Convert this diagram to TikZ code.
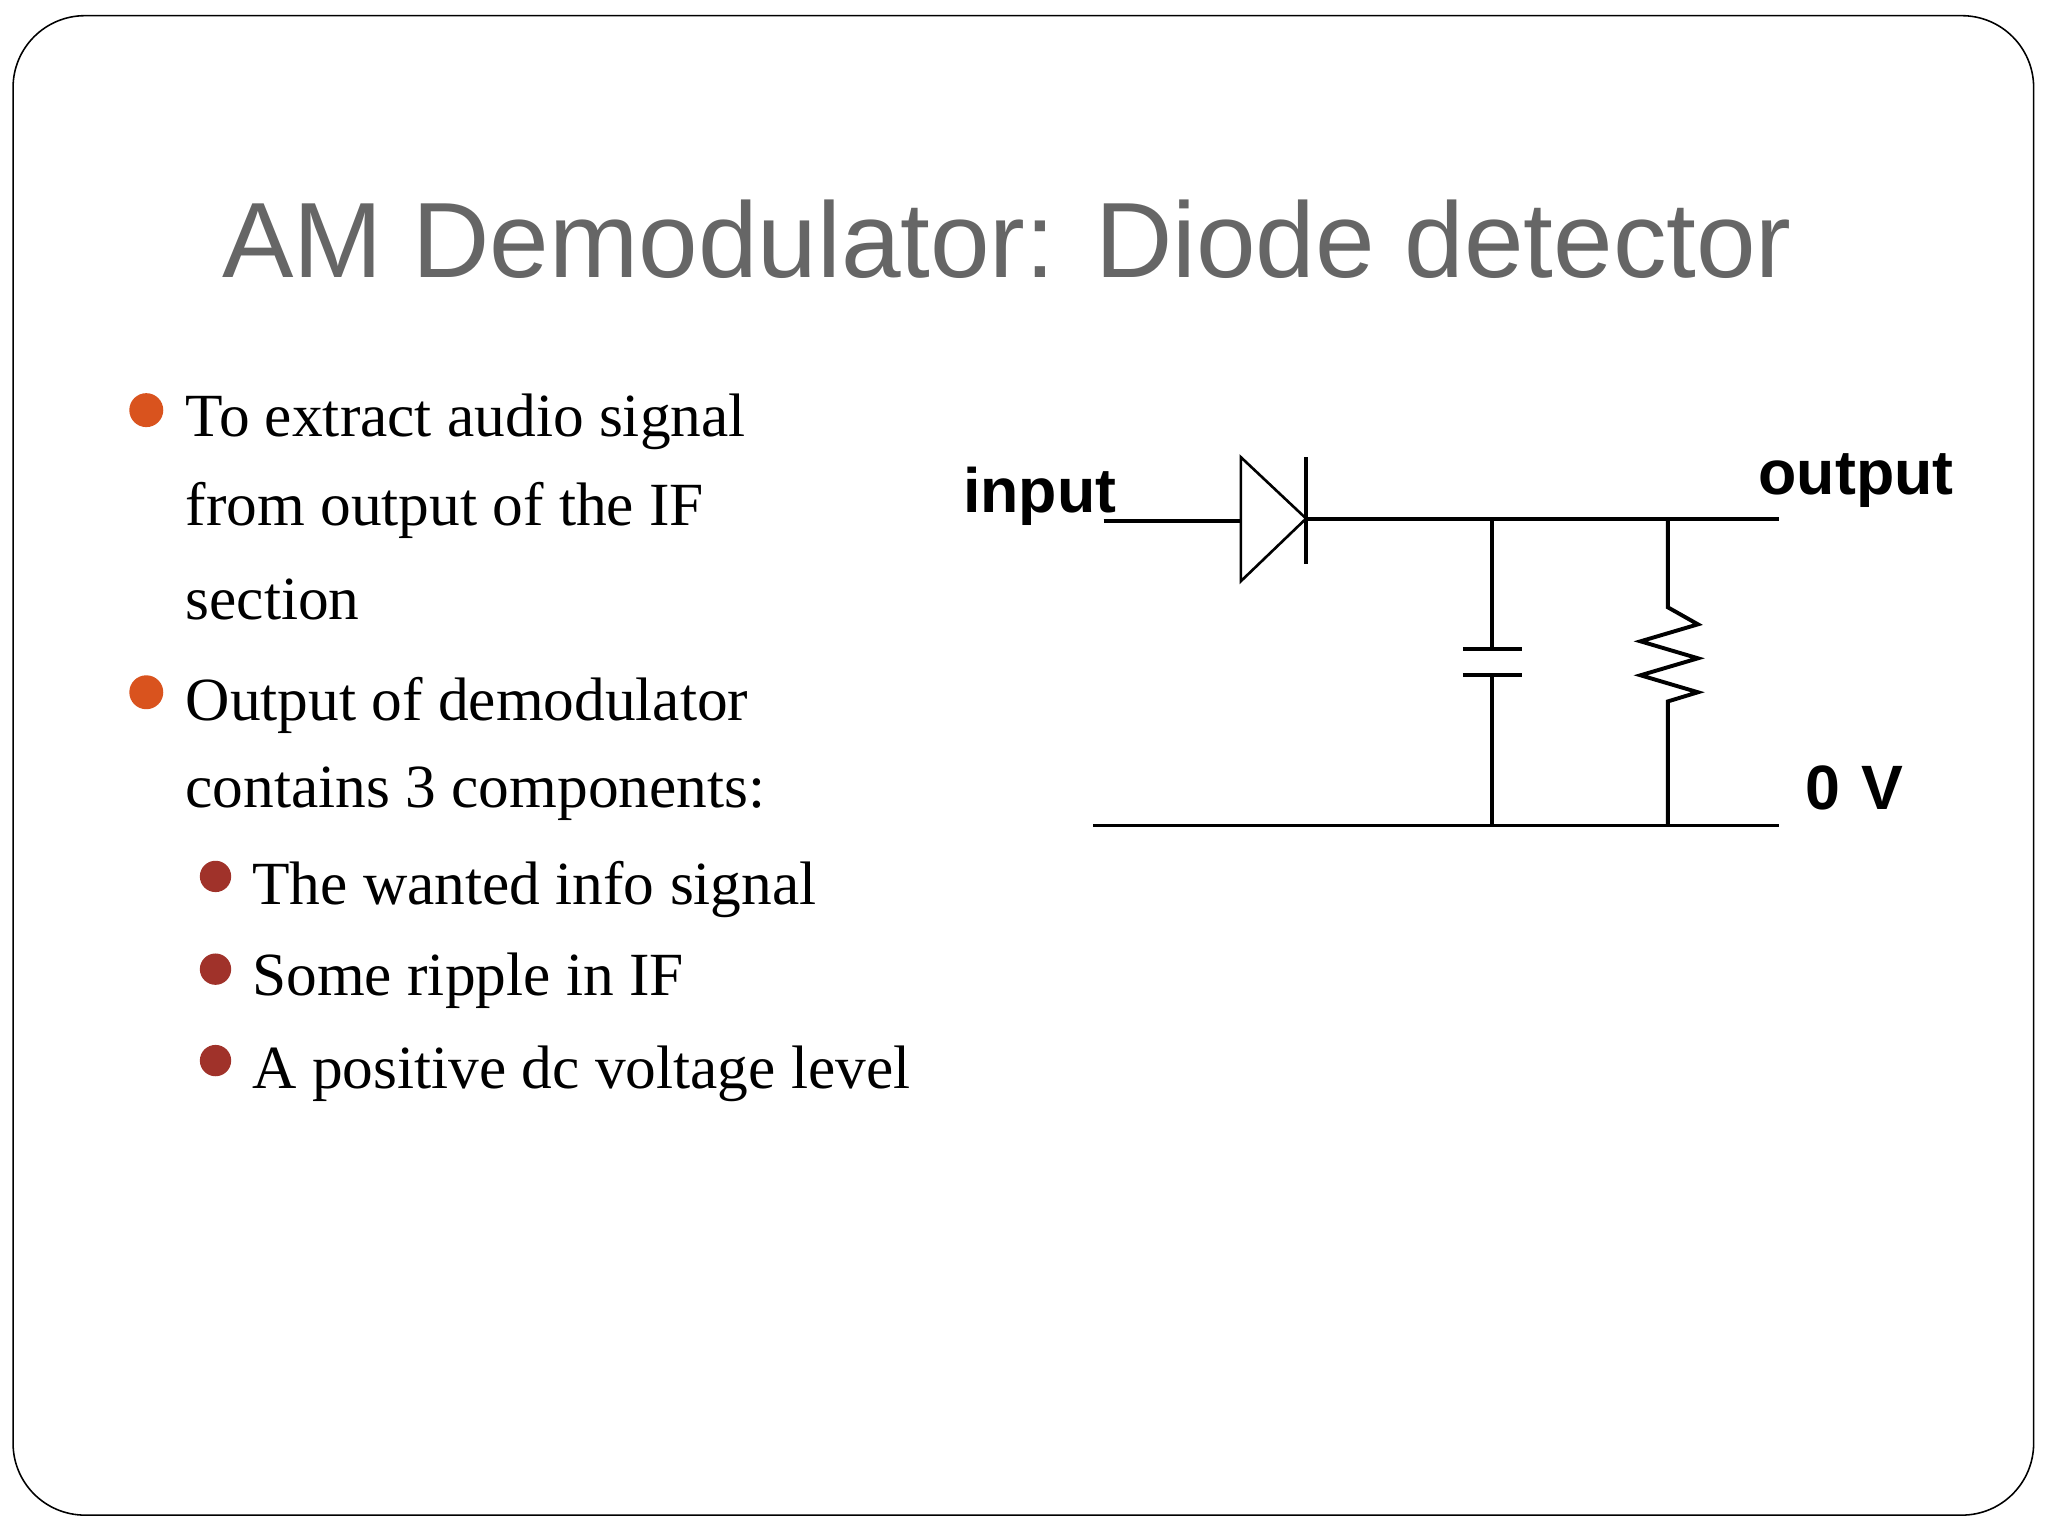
\documentclass[tikz,border=0pt]{standalone}
\usepackage{fontspec}
\setmainfont{Liberation Serif}
\newfontfamily\titlefont{Liberation Sans}
\newfontfamily\circfont{Liberation Sans}
\definecolor{titlegray}{HTML}{666666}
\definecolor{bulorange}{HTML}{D9531E}
\definecolor{bulred}{HTML}{A0322A}
\begin{document}
\begin{tikzpicture}[x=1pt,y=-1pt,
  wire/.style={line width=3pt},
  body/.style={anchor=west,font=\fontsize{47}{56}\selectfont,inner sep=0},
  circ/.style={font=\circfont\bfseries\fontsize{48}{56}\selectfont,inner sep=0}]
\useasboundingbox (0,0) rectangle (1568,1176);
\draw[line width=1.2pt,rounded corners=55pt] (10,12) rectangle (1557,1160);
\node[font=\titlefont\fontsize{82}{94}\selectfont,text=titlegray] (title) at (771,183) {AM Demodulator: Diode detector};
% bullets
\fill[bulorange] (112,314) circle (13);
\fill[bulorange] (112,530) circle (13);
\fill[bulred] (165,671) circle (12);
\fill[bulred] (165,742) circle (12);
\fill[bulred] (165,812) circle (12);
\node[body] (t1) at (142,323) {To extract audio signal};
\node[body] (t2) at (142,391) {from output of the IF};
\node[body] (t3) at (142,459) {section};
\node[body] (t4) at (142,540) {Output of demodulator};
\node[body] (t5) at (142,608) {contains 3 components:};
\node[body] (s1) at (193,681) {The wanted info signal};
\node[body] (s2) at (193,751) {Some ripple in IF};
\node[body] (s3) at (193,822) {A positive dc voltage level};
% circuit
\node[circ] (in) at (796,380) {input};
\node[circ] (out) at (1421,368) {output};
\node[circ] (zv) at (1420,603) {0\,\,V};
\coordinate (a) at (845,399);
\coordinate (dk) at (950,399);
\coordinate (dc) at (1000,397);
\coordinate (o) at (1362,397);
\draw[wire] (a) -- (dk);
\draw[line width=2pt] (950,350) -- (950,445) -- (1000,397) -- cycle;
\draw[wire] (1000,350) -- (1000,432);
\draw[wire] (dc) -- (o);
\draw[wire] (1142,397) -- (1142,497);
\draw[wire] (1120,497) -- (1165,497);
\draw[wire] (1120,517) -- (1165,517);
\draw[wire] (1142,517) -- (1142,632);
\draw[wire,line join=miter] (1277,397) -- (1277,465) -- (1300,478) -- (1256,491) -- (1300,504) -- (1256,517) -- (1300,530) -- (1277,537) -- (1277,632);
\draw[wire] (837,632) -- (1362,632);
\end{tikzpicture}
\end{document}
